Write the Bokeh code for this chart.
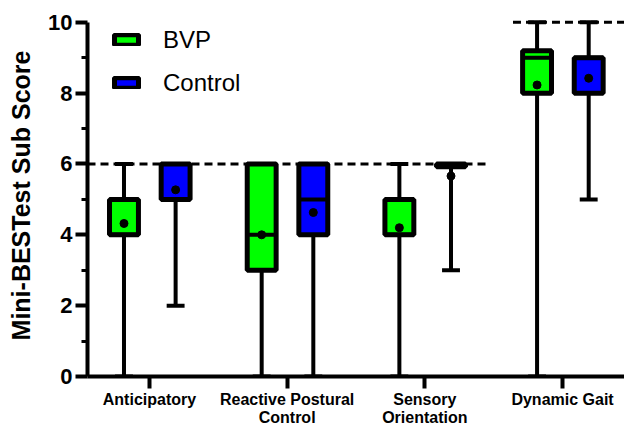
from bokeh.plotting import figure
from bokeh.models import FixedTicker, Legend, LegendItem, ColumnDataSource
from bokeh.embed import file_html
from bokeh.resources import INLINE

# ---- data ----
categories = ["Anticipatory", "Reactive Postural\nControl", "Sensory\nOrientation", "Dynamic Gait"]
groups = ["BVP", "Control"]

bvp_min = [0, 0, 0, 0]
bvp_q1 = [4, 3, 4, 8]
bvp_med = [4, 4, 4, 9]
bvp_q3 = [5, 6, 5, 9.2]
bvp_max = [6, 6, 6, 10]
bvp_mean = [4.32, 4.0, 4.2, 8.23]

ctl_min = [2, 0, 3, 5]
ctl_q1 = [5, 4, 5.92, 8]
ctl_med = [6, 5, 6, 9]
ctl_q3 = [6, 6, 6, 9]
ctl_max = [6, 6, 6, 10]
ctl_mean = [5.27, 4.63, 5.66, 8.42]

max_scores = [6, 6, 6, 10]  # maximum possible sub score per section

y_ticks = [0, 2, 4, 6, 8, 10]
y_minor = [1, 3, 5, 7, 9]
y_title = "Mini-BESTest Sub Score"

colors = {"BVP": "#00FF00", "Control": "#0000FF"}
offsets = {"BVP": -0.185, "Control": 0.19}
BOX_W = 0.21
CAP_W = 0.13
FONT = "Liberation Sans"
X_START, X_END = -0.45, 3.45

p = figure(width=624, height=432, x_range=(X_START, X_END), y_range=(0, 10.22),
           output_backend="svg", toolbar_location=None,
           min_border_left=87, min_border_right=0, min_border_top=14, min_border_bottom=56)
p.outline_line_color = None
p.xgrid.visible = False
p.ygrid.visible = False
p.background_fill_color = "white"
p.border_fill_color = "white"

# reference (maximum score) dashed lines
xs_idx = list(range(len(categories)))
seg_x0, seg_x1, seg_y = [], [], []
start = 0
for i in range(1, len(max_scores) + 1):
    if i == len(max_scores) or max_scores[i] != max_scores[start]:
        x0 = X_START if start == 0 else start - 0.36
        x1 = X_END if i == len(max_scores) else (i - 1) + 0.47
        seg_x0.append(x0)
        seg_x1.append(x1)
        seg_y.append(max_scores[start])
        start = i
p.segment(x0=seg_x0, y0=seg_y, x1=seg_x1, y1=seg_y, line_color="black",
          line_width=3, line_dash="8 5")

data = {
    "BVP": (bvp_min, bvp_q1, bvp_med, bvp_q3, bvp_max, bvp_mean),
    "Control": (ctl_min, ctl_q1, ctl_med, ctl_q3, ctl_max, ctl_mean),
}

box_renderers = {}
for g in groups:
    mn, q1, md, q3, mx, mean = data[g]
    xs = [i + offsets[g] for i in xs_idx]
    src = ColumnDataSource(dict(x=xs, left=[x - BOX_W / 2 for x in xs], right=[x + BOX_W / 2 for x in xs],
                                cl=[x - CAP_W / 2 for x in xs], cr=[x + CAP_W / 2 for x in xs],
                                mn=mn, q1=q1, md=md, q3=q3, mx=mx, mean=mean))
    p.segment(x0="x", y0="mn", x1="x", y1="q1", source=src, line_color="black", line_width=4)
    p.segment(x0="x", y0="q3", x1="x", y1="mx", source=src, line_color="black", line_width=4)
    p.segment(x0="cl", y0="mn", x1="cr", y1="mn", source=src, line_color="black", line_width=4)
    p.segment(x0="cl", y0="mx", x1="cr", y1="mx", source=src, line_color="black", line_width=4)
    r = p.quad(left="left", right="right", bottom="q1", top="q3", source=src,
               fill_color=colors[g], line_color="black", line_width=5)
    box_renderers[g] = r
    p.segment(x0="left", y0="md", x1="right", y1="md", source=src, line_color="black", line_width=4)
    p.scatter(x="x", y="mean", source=src, size=8, color="black")

legend = Legend(items=[LegendItem(label=g, renderers=[box_renderers[g]]) for g in groups],
                location="top_left", margin=0, padding=0, spacing=15,
                glyph_width=30, glyph_height=13, label_height=24, label_standoff=22,
                label_text_font=FONT, label_text_font_size="24px", label_text_color="black",
                border_line_color=None, background_fill_alpha=0)
legend.location = (24, 361.5 - 13 - 69)
p.add_layout(legend, "center")

# axes
p.yaxis.ticker = FixedTicker(ticks=y_ticks, minor_ticks=y_minor)
p.yaxis.bounds = (y_ticks[0], y_ticks[-1])
p.yaxis.axis_label = y_title
p.yaxis.axis_label_text_font = FONT
p.yaxis.axis_label_text_font_size = "25px"
p.yaxis.axis_label_text_font_style = "bold"
p.yaxis.axis_label_text_color = "black"
p.yaxis.axis_label_standoff = 10
p.yaxis.major_label_text_font = FONT
p.yaxis.major_label_text_font_size = "22px"
p.yaxis.major_label_text_font_style = "bold"
p.yaxis.major_label_standoff = 3
p.yaxis.minor_tick_out = 6
p.yaxis.minor_tick_in = 0
p.yaxis.minor_tick_line_width = 3

p.xaxis.ticker = FixedTicker(ticks=xs_idx, minor_ticks=[])
p.xaxis.major_label_overrides = {i: c for i, c in enumerate(categories)}
p.xaxis.major_label_text_font = FONT
p.xaxis.major_label_text_font_size = "16px"
p.xaxis.major_label_text_font_style = "bold"
p.xaxis.major_label_text_line_height = 1.1
p.xaxis.major_label_standoff = 2

for ax in (p.xaxis, p.yaxis):
    ax.axis_line_width = 4
    ax.axis_line_color = "black"
    ax.major_tick_line_width = 4
    ax.major_tick_line_color = "black"
    ax.major_tick_out = 12
    ax.major_tick_in = 0
    ax.major_label_text_color = "black"

open("out.html", "w").write(file_html(p, INLINE))
